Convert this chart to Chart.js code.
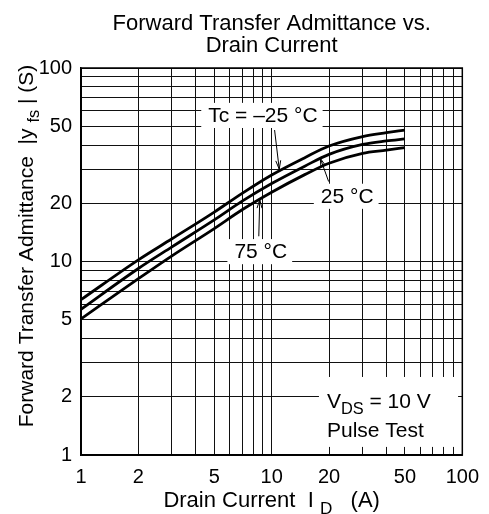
<!DOCTYPE html>
<html>
<head>
<meta charset="utf-8">
<script src="https://cdn.jsdelivr.net/npm/chart.js@4.4.1/dist/chart.umd.min.js"></script>
<style>
  html, body { margin: 0; padding: 0; background: #fff; }
  canvas { display: block; }
</style>
</head>
<body>
<canvas id="chart" width="489" height="514"></canvas>
<script>
// drain current I_D (A)
const drainCurrent = [1, 2, 3, 5, 7, 10, 15, 20, 30, 40, 50];
// |yfs| (S)
const yfsMinus25 = [6.35, 10.2, 13.1, 18.0, 22.5, 28.0, 34.5, 39.5, 44.2, 46.3, 47.8];
const yfs25 = [5.66, 9.2, 11.9, 16.4, 20.5, 25.3, 31.2, 35.8, 40.3, 42.0, 43.0];
const yfs75 = [5.05, 8.15, 10.7, 14.8, 18.5, 22.8, 28.2, 32.2, 36.2, 37.6, 38.8];

const gridValues = [1, 2, 3, 4, 5, 6, 7, 8, 9, 10, 20, 30, 40, 50, 60, 70, 80, 90, 100];
const tickLabels = [1, 2, 5, 10, 20, 50, 100];

const FONT = "'Liberation Sans', Arial, Helvetica, sans-serif";

// text labels placed in data units
const tempLabels = [
    { parts: [{ t: 'Tc = –25 °C' }], x: 9.0, y: 52.6 },
    { parts: [{ t: '25 °C' }], x: 24.9, y: 20.1 },
    { parts: [{ t: '75 °C' }], x: 8.77, y: 10.4 }
];
const arrows = [
    { from: [10.36, 47.8], to: [10.96, 30.0] },
    { from: [19.9, 25.9], to: [18.0, 34.1] },
    { from: [8.56, 13.5], to: [8.66, 20.9] }
];

function toPoints(ys) {
    return drainCurrent.map((x, i) => ({ x: x, y: ys[i] }));
}

function partsWidth(ctx, parts, size) {
    let w = 0;
    for (const p of parts) {
        ctx.font = (p.sub ? size * 0.78 : size) + 'px ' + FONT;
        w += ctx.measureText(p.t).width;
    }
    return w;
}

function drawParts(ctx, parts, x, y, size) {
    let cx = x;
    for (const p of parts) {
        const s = p.sub ? size * 0.78 : size;
        ctx.font = s + 'px ' + FONT;
        ctx.fillText(p.t, cx, p.sub ? y + size * 0.3 : y);
        cx += ctx.measureText(p.t).width;
    }
    return cx - x;
}

function drawArrow(ctx, x1, y1, x2, y2) {
    const ang = Math.atan2(y2 - y1, x2 - x1);
    const len = 9;
    ctx.beginPath();
    ctx.moveTo(x1, y1);
    ctx.lineTo(x2, y2);
    ctx.moveTo(x2 - len * Math.cos(ang - 0.28), y2 - len * Math.sin(ang - 0.28));
    ctx.lineTo(x2, y2);
    ctx.lineTo(x2 - len * Math.cos(ang + 0.28), y2 - len * Math.sin(ang + 0.28));
    ctx.stroke();
}

const annotations = {
    id: 'annotations',
    beforeDatasetsDraw(chart) {
        const ctx = chart.ctx;
        const xs = chart.scales.x;
        const ys = chart.scales.y;
        const size = 21;
        ctx.save();
        ctx.textBaseline = 'alphabetic';
        ctx.textAlign = 'left';

        for (const lab of tempLabels) {
            const w = partsWidth(ctx, lab.parts, size);
            const cx = xs.getPixelForValue(lab.x);
            const by = ys.getPixelForValue(lab.y);
            ctx.fillStyle = '#fff';
            ctx.fillRect(cx - w / 2 - 7, by - size * 0.72 - 4, w + 12, size * 0.72 + 10);
            ctx.fillStyle = '#000';
            drawParts(ctx, lab.parts, cx - w / 2, by, size);
        }

        // V_DS box
        const vx = xs.getPixelForValue(19.5);
        const vy1 = ys.getPixelForValue(1.75);
        const vy2 = ys.getPixelForValue(1.24);
        ctx.fillStyle = '#fff';
        ctx.fillRect(vx - 8, vy1 - 31, xs.getPixelForValue(95) - vx + 8, vy2 - vy1 + 41);
        ctx.fillStyle = '#000';
        drawParts(ctx, [{ t: 'V' }, { t: 'DS', sub: true }, { t: ' = 10 V' }], vx, vy1, size);
        drawParts(ctx, [{ t: 'Pulse Test' }], vx, vy2, size);
        ctx.restore();
    },
    afterDraw(chart) {
        const ctx = chart.ctx;
        const xs = chart.scales.x;
        const ys = chart.scales.y;
        const area = chart.chartArea;
        ctx.save();
        ctx.strokeStyle = '#000';
        ctx.lineWidth = 1;
        for (const a of arrows) {
            drawArrow(ctx,
                xs.getPixelForValue(a.from[0]), ys.getPixelForValue(a.from[1]),
                xs.getPixelForValue(a.to[0]), ys.getPixelForValue(a.to[1]));
        }
        ctx.lineWidth = 1.5;
        ctx.strokeRect(area.left, area.top, area.right - area.left, area.bottom - area.top);

        ctx.fillStyle = '#000';
        ctx.textAlign = 'center';
        ctx.textBaseline = 'alphabetic';
        const mid = (area.left + area.right) / 2;
        ctx.font = '22px ' + FONT;
        ctx.fillText('Forward Transfer Admittance vs.', mid, 30);
        ctx.fillText('Drain Current', mid, 52);

        // x axis title
        ctx.textAlign = 'left';
        const xParts = [{ t: 'Drain Current  I ' }, { t: 'D', sub: true }, { t: '   (A)' }];
        const xw = partsWidth(ctx, xParts, 22);
        drawParts(ctx, xParts, mid - xw / 2, 507, 22);

        // y axis title
        const yParts = [{ t: 'Forward Transfer Admittance  |y ' }, { t: 'fs', sub: true }, { t: ' | (S)' }];
        const yw = partsWidth(ctx, yParts, 21);
        ctx.translate(33, 246);
        ctx.rotate(-Math.PI / 2);
        drawParts(ctx, yParts, -yw / 2, 0, 21);
        ctx.restore();
    }
};

function logAxis(extra) {
    return Object.assign({
        type: 'logarithmic',
        min: 1,
        max: 100,
        grid: { color: '#111', lineWidth: 1, drawTicks: false },
        border: { color: '#000', width: 1.5 },
        afterBuildTicks: (scale) => {
            scale.ticks = gridValues.map(v => ({ value: v }));
        }
    }, extra);
}

const lineStyle = {
    borderColor: '#000',
    borderWidth: 2.8,
    pointRadius: 0,
    fill: false,
    cubicInterpolationMode: 'monotone'
};

new Chart(document.getElementById('chart').getContext('2d'), {
    type: 'line',
    data: {
        datasets: [
            Object.assign({ label: 'Tc = -25 °C', data: toPoints(yfsMinus25) }, lineStyle),
            Object.assign({ label: 'Tc = 25 °C', data: toPoints(yfs25) }, lineStyle),
            Object.assign({ label: 'Tc = 75 °C', data: toPoints(yfs75) }, lineStyle)
        ]
    },
    options: {
        responsive: false,
        animation: false,
        devicePixelRatio: 1,
        layout: { padding: { left: 0, right: 22, top: 68, bottom: 0 } },
        plugins: { legend: { display: false }, tooltip: { enabled: false }, title: { display: false } },
        scales: {
            x: logAxis({
                position: 'bottom',
                ticks: {
                    autoSkip: false, maxRotation: 0, padding: 10, color: '#000',
                    font: { family: FONT, size: 20 },
                    callback: v => tickLabels.includes(v) ? String(v) : ''
                },
                afterFit: (scale) => { scale.height = 59; }
            }),
            y: logAxis({
                position: 'left',
                ticks: {
                    autoSkip: false, padding: 9, color: '#000',
                    font: { family: FONT, size: 20 },
                    callback: v => tickLabels.includes(v) ? String(v) : ''
                },
                afterFit: (scale) => { scale.width = 81; }
            })
        }
    },
    plugins: [annotations]
});
</script>
</body>
</html>
